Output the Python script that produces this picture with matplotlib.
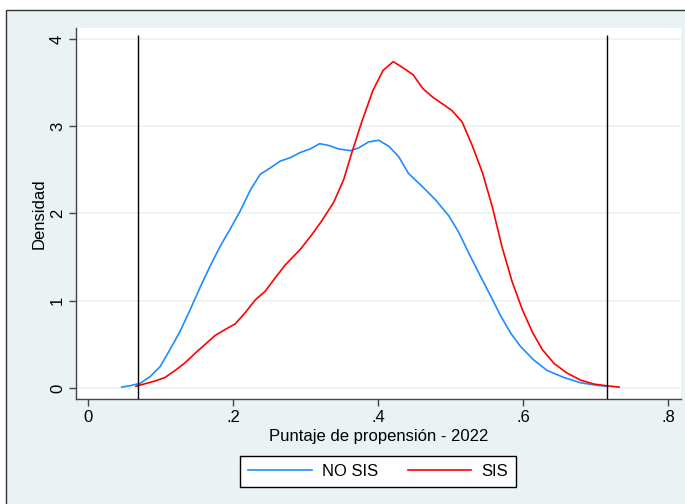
import matplotlib
matplotlib.use("Agg")
import matplotlib.pyplot as plt
from matplotlib.patches import Rectangle

# NO SIS density
nosis_x = [0.0465, 0.060, 0.072, 0.0856, 0.0994, 0.113, 0.127, 0.141, 0.155, 0.168, 0.182, 0.196,
           0.210, 0.224, 0.2376, 0.251, 0.265, 0.279, 0.293, 0.3066, 0.3195, 0.332, 0.3457, 0.362,
           0.373, 0.387, 0.401, 0.415, 0.4286, 0.442, 0.461, 0.479, 0.498, 0.511, 0.525, 0.5414,
           0.5576, 0.569, 0.583, 0.5967, 0.615, 0.6335, 0.6566, 0.6796, 0.7026, 0.716]
nosis_y = [0.01, 0.03, 0.054, 0.13, 0.245, 0.44, 0.65, 0.90, 1.16, 1.39, 1.62, 1.82,
           2.03, 2.27, 2.45, 2.52, 2.60, 2.64, 2.70, 2.74, 2.80, 2.78, 2.74, 2.72,
           2.75, 2.82, 2.84, 2.77, 2.65, 2.46, 2.31, 2.16, 1.97, 1.79, 1.55, 1.28,
           1.02, 0.83, 0.63, 0.475, 0.32, 0.20, 0.12, 0.06, 0.03, 0.02]

# SIS density
sis_x = [0.066, 0.081, 0.0925, 0.106, 0.120, 0.134, 0.148, 0.1616, 0.175, 0.189, 0.203, 0.217,
         0.2307, 0.2445, 0.258, 0.272, 0.2836, 0.293, 0.309, 0.3228, 0.339, 0.3527, 0.364, 0.378,
         0.393, 0.407, 0.421, 0.4346, 0.4485, 0.462, 0.476, 0.490, 0.502, 0.516, 0.530, 0.544,
         0.5576, 0.571, 0.585, 0.599, 0.613, 0.6267, 0.643, 0.661, 0.6796, 0.698, 0.716, 0.7326]
sis_y = [0.02, 0.054, 0.08, 0.12, 0.20, 0.29, 0.40, 0.50, 0.60, 0.67, 0.735, 0.865,
         1.01, 1.11, 1.26, 1.41, 1.51, 1.59, 1.76, 1.92, 2.13, 2.39, 2.70, 3.06,
         3.41, 3.64, 3.74, 3.67, 3.59, 3.43, 3.33, 3.25, 3.18, 3.05, 2.78, 2.47,
         2.08, 1.62, 1.22, 0.90, 0.64, 0.44, 0.28, 0.17, 0.09, 0.045, 0.025, 0.01]

vlines_x = [0.0694, 0.7155]
x_ticks = [0, 0.2, 0.4, 0.6, 0.8]
x_ticklabels = ["0", ".2", ".4", ".6", ".8"]
y_ticks = [0, 1, 2, 3, 4]
y_ticklabels = ["0", "1", "2", "3", "4"]

plt.rcParams['font.family'] = ['Liberation Sans', 'DejaVu Sans']

W, H = 685, 504
fig = plt.figure(figsize=(W / 100, H / 100), dpi=100)
fig.patch.set_facecolor("white")
bg = "#EAF2F3"
fig.patches.append(Rectangle((6 / W, -0.1), 1.2, 1.1 - 10 / H, transform=fig.transFigure,
                             facecolor=bg, edgecolor="#333333", linewidth=1.0, zorder=-10))

ax = fig.add_axes([76 / W, 1 - 399 / H, (681 - 76) / W, (399 - 28) / H])
ax.set_zorder(1)
ax.set_facecolor("white")
ax.set_xlim(-0.0166, 0.818)
ax.set_ylim(-0.126, 4.126)

for yv in y_ticks:
    ax.axhline(yv, color=bg, linewidth=1.2, zorder=1)

ax.plot(nosis_x, nosis_y, color="#1E8CFF", linewidth=1.2, label="NO SIS", zorder=3)
ax.plot(sis_x, sis_y, color="#FF0000", linewidth=1.2, label="SIS", zorder=3)
ax.vlines(vlines_x, -0.126, 4.05, color="black", linewidth=1.0, zorder=4)

for s in ["top", "right"]:
    ax.spines[s].set_visible(False)
for s in ["left", "bottom"]:
    ax.spines[s].set_color("#444444")
    ax.spines[s].set_linewidth(1.0)

ax.set_xticks(x_ticks)
ax.set_xticklabels(x_ticklabels)
ax.set_yticks(y_ticks)
ax.set_yticklabels(y_ticklabels, rotation=90, va="center")
ax.tick_params(axis="both", direction="out", length=5, width=1.0, color="#444444",
               labelsize=12, labelcolor="black", pad=3)
ax.set_xlabel("Puntaje de propensión - 2022", fontsize=12, labelpad=3)
ax.set_ylabel("Densidad", fontsize=12, labelpad=2)

leg = fig.legend(loc="center", bbox_to_anchor=(378 / W, 1 - 471.5 / H), ncol=2,
                 fontsize=12, frameon=True, fancybox=False, edgecolor="black", framealpha=1,
                 handlelength=3.8, handletextpad=0.6, columnspacing=1.8, borderpad=0.5)
leg.get_frame().set_linewidth(1.0)
leg.get_frame().set_facecolor("white")

fig.savefig("out.png", dpi=100, facecolor=fig.get_facecolor())
